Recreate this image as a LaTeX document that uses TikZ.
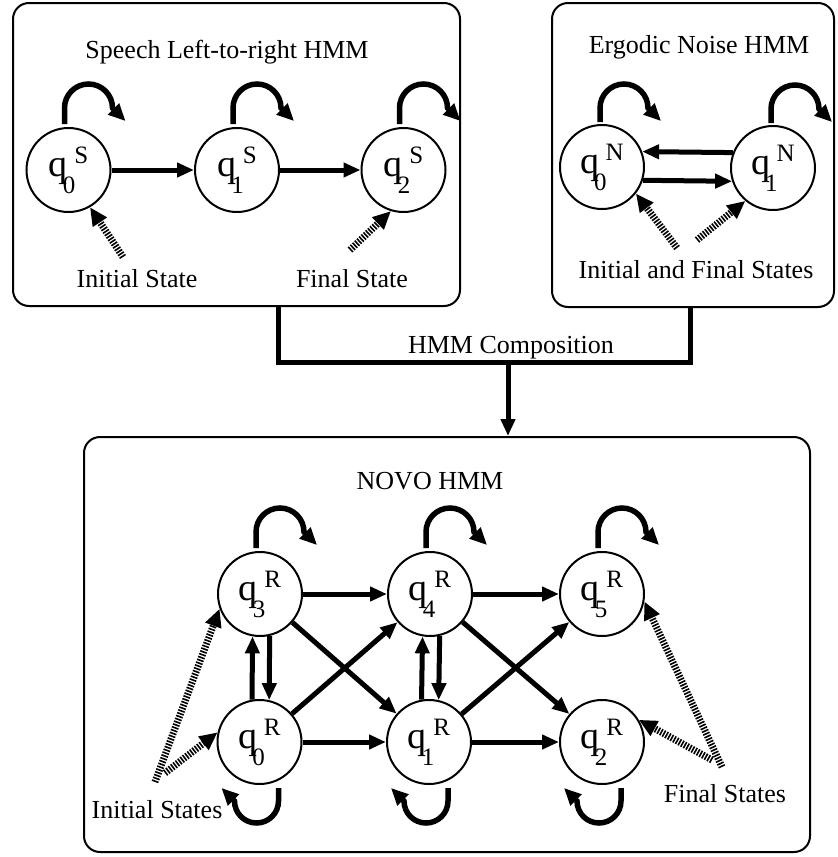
\documentclass[tikz,border=0pt]{standalone}
\usepackage{fontspec}
\setmainfont{Liberation Serif}
\usetikzlibrary{arrows.meta}
\newcommand\qlab[2]{{\fontsize{38}{38}\selectfont q}\kern-5pt\raisebox{-17pt}{\fontsize{25}{25}\selectfont #1}\kern-1pt\raisebox{13pt}{\fontsize{25}{25}\selectfont #2}}
\begin{document}
\begin{tikzpicture}[x=1pt,y=-1pt,
  state/.style={circle,draw,line width=2pt,minimum size=84pt,inner sep=0pt},
  box/.style={draw,line width=2pt,rounded corners=16pt,inner sep=0pt},
  lbl/.style={font=\fontsize{26}{30}\selectfont,anchor=base,inner sep=0pt},
  arr/.style={line width=5pt,-{Triangle[length=17pt,width=14pt]}},
  hatch/.style={line width=7pt,dash pattern=on 1.6pt off 1.4pt,-{Triangle[length=18pt,width=16pt]}},
  selfl/.style={line width=5.5pt,-{Triangle[length=17pt,width=15pt]}}]

\useasboundingbox (0,0) rectangle (838,857);

% boxes
\node[box,minimum width=447pt,minimum height=303pt] (boxS) at (236.5,154.5) {};
\node[box,minimum width=282pt,minimum height=304pt] (boxN) at (693,155) {};
\node[box,minimum width=726pt,minimum height=415pt] (boxR) at (447,644.5) {};

% titles and labels
\node[lbl] (tS) at (227,58) {Speech Left-to-right HMM};
\node[lbl] (tN) at (699,53) {Ergodic Noise HMM};
\node[lbl] (tR) at (430,489) {NOVO HMM};
\node[lbl] (iS) at (137,287) {Initial State};
\node[lbl] (fS) at (352,287) {Final State};
\node[lbl] (ifN) at (696,278) {Initial and Final States};
\node[lbl] (comp) at (511,353) {HMM Composition};
\node[lbl] (iR) at (157,818) {Initial States};
\node[lbl] (fR) at (725,802) {Final States};

% speech HMM
\node[state] (s0) at (68.5,170) {\qlab{0}{S}};
\node[state] (s1) at (237,170) {\qlab{1}{S}};
\node[state] (s2) at (403.5,170) {\qlab{2}{S}};
\draw[arr] (s0) -- (s1);
\draw[arr] (s1) -- (s2);
\foreach \n in {s0,s1,s2}
  \draw[selfl] ([xshift=-4pt,yshift=46pt]\n.center) -- ++(0,-16) arc[start angle=180,end angle=360,radius=24] -- ++(13,13);
\coordinate (is0) at (123,257);
\coordinate (fs2) at (350,250);
\draw[hatch] (is0) -- (s0.-60);
\draw[hatch] (fs2) -- (s2.-107);

% noise HMM
\node[state] (n0) at (602,167) {\qlab{0}{N}};
\node[state] (n1) at (773,168) {\qlab{1}{N}};
\draw[arr] (n1.159) -- (n0.21);
\draw[arr] (n0.-18) -- (n1.198);
\foreach \n in {n0,n1}
  \draw[selfl] ([xshift=-2pt,yshift=45pt]\n.center) -- ++(0,-14) arc[start angle=180,end angle=360,radius=24] -- ++(13,13);
\coordinate (in0) at (677,248);
\coordinate (in1) at (697,240);
\draw[hatch] (in0) -- (n0.-38);
\draw[hatch] (in1) -- (n1.-130);

% NOVO HMM
\node[state] (r3) at (260,594) {\qlab{3}{R}};
\node[state] (r4) at (430,594) {\qlab{4}{R}};
\node[state] (r5) at (602,594) {\qlab{5}{R}};
\node[state] (r0) at (259.5,742) {\qlab{0}{R}};
\node[state] (r1) at (429,742) {\qlab{1}{R}};
\node[state] (r2) at (602,742) {\qlab{2}{R}};
\draw[arr] (r3) -- (r4);
\draw[arr] (r4) -- (r5);
\draw[arr] (r0) -- (r1);
\draw[arr] (r1) -- (r2);
\draw[arr] (r3) -- (r1);
\draw[arr] (r0) -- (r4);
\draw[arr] (r4) -- (r2);
\draw[arr] (r1) -- (r5);
\draw[arr] (r0.100) -- (r3.260);
\draw[arr] (r3.283) -- (r0.77);
\draw[arr] (r1.100) -- (r4.260);
\draw[arr] (r4.283) -- (r1.77);
\foreach \n in {r3,r4,r5}
  \draw[selfl] ([xshift=-4pt,yshift=46pt]\n.center) -- ++(0,-16) arc[start angle=180,end angle=360,radius=24] -- ++(13,13);
\foreach \n in {r0,r1,r2}
  \draw[selfl] ([xshift=19pt,yshift=-46pt]\n.center) -- ++(0,13) arc[start angle=0,end angle=180,radius=22] -- ++(-13,-13);
\coordinate (ir3) at (155,782);
\coordinate (ir0) at (165,773);
\coordinate (fr5) at (722,767);
\coordinate (fr2) at (712,760);
\draw[hatch] (ir3) -- (r3.200);
\draw[hatch] (ir0) -- (r0.167);
\draw[hatch] (fr5) -- (r5.-10);
\draw[hatch] (fr2) -- (r2.31);

% composition bracket
\coordinate (cl) at (278,362);
\coordinate (cr) at (690,362);
\coordinate (cm) at (508,362);
\draw[line width=5pt] (boxS.south -| cl) -- (cl) -- (cr) -- (boxN.south -| cr);
\draw[arr] (cm) -- (cm |- boxR.north);
\end{tikzpicture}
\end{document}
